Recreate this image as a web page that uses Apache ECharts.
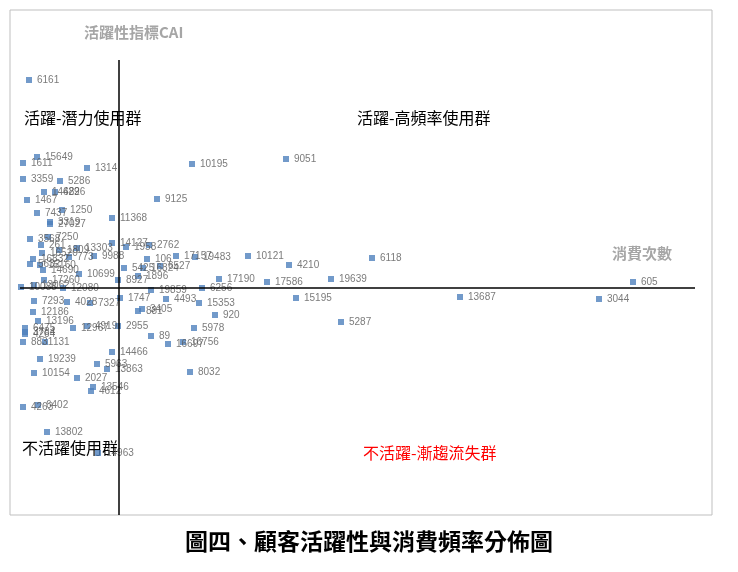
<!DOCTYPE html>
<html lang="zh-Hant">
<head>
<meta charset="UTF-8">
<title>顧客活躍性與消費頻率分佈圖</title>
<script src="https://cdn.jsdelivr.net/npm/echarts@6.0.0/dist/echarts.min.js"></script>
<style>body{margin:0;background:#fff}#chart{width:738px;height:572px}</style>
</head>
<body>
<div id="chart"></div>
<script>
// 消費次數 (x) and 活躍性 (y), in chart units
var customerIds = ['6161','15649','1611','1314','10195','9051','3359','5286','14482','6296','1467','9125','7437','1250','11368','3319','27027',
  '3568','7250','261','1809','13303','14127','1958','2762','9988','773','16520','16832','5632','15160','14690','10699','17260','8927',
  '106','5425','16824','6527','1896','17157','19483','10121','4210','6118','17190','17586','19639','605','3044','13687','15195','5287',
  '10088','13062','12080','19859','6256','7293','4028','7327','1747','4493','15353','12186','881','3405','920','13196','6475','3784','4264',
  '12967','4919','2955','5978','8831','131','89','16697','16756','14466','19239','5963','13863','10154','8032','2027','13546','4612',
  '4263','6402','13802','14963'];
var purchaseCount = [19,27,13,77,182,276,13,50,34,45,17,147,27,52,102,40,40,
  20,38,31,49,67,102,116,139,84,59,32,23,20,30,33,69,34,108,
  137,114,133,150,128,166,185,238,279,362,209,257,321,623,589,450,286,331,
  11,24,53,141,192,24,57,80,110,156,189,23,128,132,205,28,15,15,15,
  63,77,108,184,13,35,141,158,173,102,30,87,97,24,180,67,83,81,
  13,28,37,88];
var activity = [435,358,352,347,351,356,336,334,323,323,315,316,302,305,297,293,291,
  276,278,270,265,267,272,268,270,259,258,262,256,251,250,245,241,235,235,
  256,247,247,249,239,259,258,259,250,257,236,233,236,233,216,218,217,193,
  228,230,227,225,227,214,213,212,217,216,212,203,204,206,200,194,187,183,181,
  187,189,189,187,173,173,179,171,173,163,156,151,146,142,143,137,128,124,
  108,110,83,62];
var xTicks = {min: 0, max: 702};
var yTicks = {min: 0, max: 505};

var chart = echarts.init(document.getElementById('chart'));
var pts = purchaseCount.map(function (x, i) { return {value: [x, activity[i]], name: customerIds[i]}; });
var quad = {fontFamily: 'Noto Sans CJK TC', fontSize: 16, fill: '#000'};
chart.setOption({
  animation: false,
  grid: {left: 10, right: 26, top: 10, bottom: 57, show: true, borderColor: '#bfbfbf', borderWidth: 1},
  xAxis: {type: 'value', min: xTicks.min, max: xTicks.max, show: false},
  yAxis: {type: 'value', min: yTicks.min, max: yTicks.max, show: false},
  series: [{
    type: 'scatter',
    symbol: 'rect',
    symbolSize: 6,
    itemStyle: {color: '#4f81bd'},
    data: pts,
    label: {show: true, position: 'right', distance: 5, formatter: '{b}', fontSize: 10,
      color: '#595959', fontFamily: 'Liberation Sans'},
    markLine: {
      silent: true, symbol: 'none', label: {show: false},
      lineStyle: {color: '#000', width: 1.5, type: 'solid'},
      data: [
        [{coord: [109, 0]}, {coord: [109, 455]}],
        [{coord: [10, 227]}, {coord: [685, 227]}]
      ]
    }
  }],
  graphic: [
    {type: 'text', left: 84, top: 25, style: {text: '活躍性指標CAI', font: 'bold 15px "Noto Sans CJK TC"', fill: '#a6a6a6'}},
    {type: 'text', left: 612, top: 246, style: {text: '消費次數', font: 'bold 15px "Noto Sans CJK TC"', fill: '#a6a6a6'}},
    {type: 'text', left: 24, top: 110, style: Object.assign({text: '活躍-潛力使用群'}, quad)},
    {type: 'text', left: 357, top: 110, style: Object.assign({text: '活躍-高頻率使用群'}, quad)},
    {type: 'text', left: 22, top: 440, style: Object.assign({text: '不活躍使用群'}, quad)},
    {type: 'text', left: 363, top: 445, style: Object.assign({}, quad, {text: '不活躍-漸趨流失群', fill: '#ff0000'})},
    {type: 'text', left: 'center', top: 530, style: {text: '圖四、顧客活躍性與消費頻率分佈圖', font: 'bold 23px "Noto Sans CJK TC"', fill: '#000'}}
  ]
});
</script>
</body>
</html>
